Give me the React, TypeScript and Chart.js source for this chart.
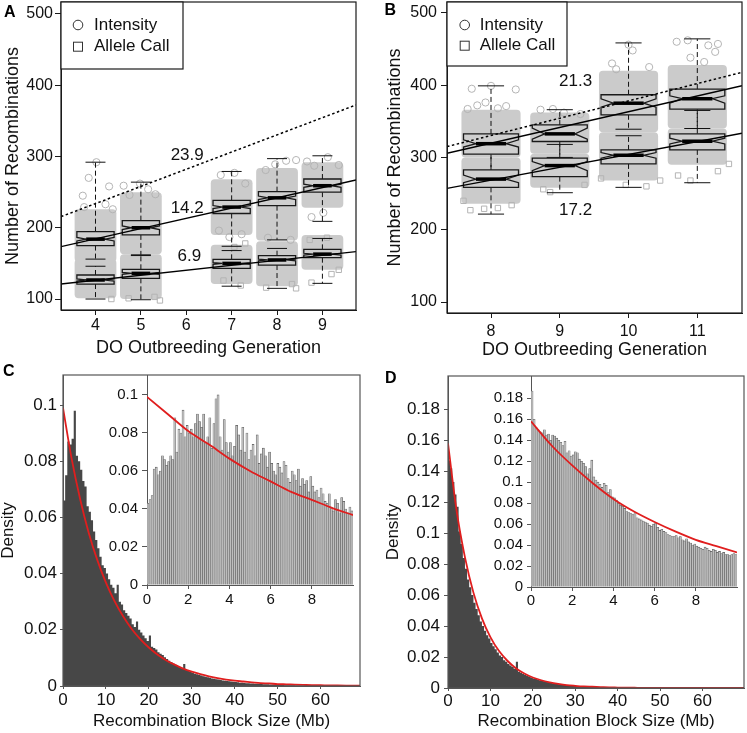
import React, { useEffect, useRef } from "react";
import { Chart, registerables } from "chart.js";

Chart.register(...registerables);
const FONT = '"Liberation Sans", Arial, Helvetica, sans-serif';
Chart.defaults.font.family = FONT;
Chart.defaults.color = "#111";

// ================= Panel A data =================
const A_GENS = [4, 5, 7, 8, 9];
const A_XTICKS = [4, 5, 6, 7, 8, 9];
const A_YTICKS = [100, 200, 300, 400, 500];
const A_INT_WLO = [156, 162, 174, 183, 209];
const A_INT_Q1 = [175, 190, 220, 231, 250];
const A_INT_NLO = [181.5, 197.5, 226.8, 239.5, 256.8];
const A_INT_MED = [184, 200, 229, 242, 259];
const A_INT_NHI = [186.5, 202.5, 231.2, 244.5, 261.2];
const A_INT_Q3 = [194.5, 210, 238.5, 250.7, 268.4];
const A_INT_WHI = [292, 264, 279, 297, 301];
const A_ALL_WLO = [100, 99, 118, 115, 122];
const A_ALL_Q1 = [121, 129, 143, 147.7, 158];
const A_ALL_NLO = [125.2, 134.5, 148.8, 153.6, 161.8];
const A_ALL_MED = [126.7, 136, 150, 154.8, 163];
const A_ALL_NHI = [128.2, 137.5, 151.2, 156, 164.2];
const A_ALL_Q3 = [133.7, 141.7, 155.7, 160.8, 169.7];
const A_ALL_WHI = [146, 161, 168, 171, 185];
const A_INT_CLOUD_LO = [152, 163, 190, 182, 228];
const A_INT_CLOUD_HI = [226, 250, 268, 284, 292];
const A_ALL_CLOUD_LO = [101, 100, 121, 118, 141];
const A_ALL_CLOUD_HI = [156, 163, 176, 181, 190];
const A_INT_OUT: [number, number][] = [
  [3.72, 245], [3.85, 270], [4.02, 292], [4.3, 258], [3.75, 229], [4.22, 233], [4.38, 226],
  [4.62, 259], [4.98, 262], [5.16, 254], [4.75, 246], [5.32, 247],
  [6.76, 274], [7.06, 277], [7.3, 262], [6.72, 196], [7.22, 191], [6.95, 187],
  [7.75, 281], [8.2, 294], [8.42, 295], [7.96, 289], [8.3, 183], [7.8, 186],
  [8.66, 293], [8.82, 287], [9.12, 299], [9.36, 288], [8.76, 215], [9.02, 221],
];
const A_ALL_OUT: [number, number][] = [
  [4.35, 100], [4.73, 101], [5.3, 103], [5.42, 98], [6.82, 126], [7.2, 119], [7.76, 116],
  [8.33, 121], [8.42, 115], [8.76, 123], [9.2, 135], [9.36, 141], [7.06, 173], [7.3, 178],
  [8.72, 183], [9.1, 186],
];
const A_INT_FIT: [number, number][] = [[3.24, 173.5], [9.74, 267]];
const A_ALL_FIT: [number, number][] = [[3.24, 121.1], [9.74, 166.5]];
const A_PRED_FIT: [number, number][] = [[3.24, 215.6], [9.74, 372.3]];
const A_SLOPE_TEXT = ["23.9", "14.2", "6.9"];
const A_SLOPE_X = [6.02, 6.02, 6.07];
const A_SLOPE_Y = [302, 227.5, 159.4];

// ================= Panel B data =================
const B_GENS = [8, 9, 10, 11];
const B_XTICKS = [8, 9, 10, 11];
const B_YTICKS = [100, 200, 300, 400, 500];
const B_INT_WLO = [265, 300, 339, 340];
const B_INT_Q1 = [304.5, 322, 359, 366.8];
const B_INT_NLO = [314.4, 325.2, 369.6, 375];
const B_INT_MED = [319, 332.6, 375, 381.2];
const B_INT_NHI = [324.3, 340.5, 381, 385.3];
const B_INT_Q3 = [332.5, 345, 386.7, 394.6];
const B_INT_WHI = [399, 366, 458.4, 464];
const B_ALL_WLO = [221.6, 251.2, 258.6, 265];
const B_ALL_Q1 = [258.6, 273.4, 291, 310.4];
const B_ALL_NLO = [265, 281.8, 298.9, 318.7];
const B_ALL_MED = [270, 288.7, 303, 322.4];
const B_ALL_NHI = [275.7, 294.2, 306.7, 326.6];
const B_ALL_Q3 = [282.7, 298.9, 310.4, 332.6];
const B_ALL_WHI = [320, 318, 330, 365];
const B_INT_CLOUD_LO = [300, 305, 335, 340];
const B_INT_CLOUD_HI = [366, 362, 420, 428];
const B_ALL_CLOUD_LO = [236, 258, 268, 290];
const B_ALL_CLOUD_HI = [300, 305, 335, 340];
const B_INT_OUT: [number, number][] = [
  [7.72, 395], [8.0, 399], [8.36, 394], [7.8, 372], [7.92, 376], [8.1, 368], [8.22, 371], [7.66, 367],
  [8.72, 366], [8.9, 367], [9.3, 360], [9.06, 362],
  [9.76, 430], [10.0, 456], [10.06, 448], [10.3, 425], [9.82, 422],
  [10.7, 460], [10.86, 462], [11.16, 455], [11.3, 457], [10.9, 438], [11.1, 432], [11.26, 446],
];
const B_ALL_OUT: [number, number][] = [
  [7.7, 227], [7.9, 229], [8.1, 230], [8.3, 234], [7.6, 240], [8.76, 256], [8.86, 252], [9.36, 262],
  [9.6, 271], [9.96, 262], [10.26, 260], [10.46, 268], [10.72, 275], [10.9, 268], [11.3, 281], [11.46, 291],
];
const B_INT_FIT: [number, number][] = [[7.36, 305.8], [11.65, 399.2]];
const B_ALL_FIT: [number, number][] = [[7.36, 257.2], [11.65, 333.5]];
const B_PRED_FIT: [number, number][] = [[7.36, 315], [11.65, 417.7]];
const B_SLOPE_TEXT = ["21.3", "17.2"];
const B_SLOPE_X = [9.23, 9.23];
const B_SLOPE_Y = [405, 227];

const LEGEND_LABELS = ["Intensity", "Allele Call"];

// ================= Panel C data =================
const HIST_BIN = 0.5;
const C_HIST = [
  0.052, 0.066, 0.075, 0.087, 0.086, 0.088, 0.098, 0.082, 0.080, 0.077, 0.073, 0.071, 0.064, 0.062, 0.059, 0.055, 0.052, 0.049, 0.046, 0.043,
  0.042, 0.040, 0.038, 0.036, 0.035, 0.033, 0.036, 0.030, 0.029, 0.027, 0.026, 0.025, 0.024, 0.022, 0.021, 0.023, 0.020, 0.019, 0.018, 0.017,
  0.016, 0.018, 0.014, 0.0135, 0.013, 0.012, 0.0115, 0.011, 0.0102, 0.0096, 0.009, 0.0085, 0.008, 0.0076, 0.0071, 0.0067, 0.0063, 0.0078, 0.0057, 0.0053,
  0.005, 0.0047, 0.0044, 0.0042, 0.0039, 0.0037, 0.0035, 0.0033, 0.0031, 0.0029, 0.0027, 0.0026, 0.0024, 0.0023, 0.0021, 0.002, 0.0019, 0.0018, 0.0017, 0.0016,
  0.0015, 0.0014, 0.0013, 0.0012, 0.0012, 0.0011, 0.001, 0.001, 0.0009, 0.0009, 0.0008, 0.0008, 0.0007, 0.0007, 0.0006, 0.0006, 0.0006, 0.0005, 0.0005, 0.0005,
  0.0004, 0.0004, 0.0004, 0.0004, 0.0003, 0.0003, 0.0003, 0.0003, 0.0003, 0.0002, 0.0002, 0.0002, 0.0002, 0.0002, 0.0002, 0.0002, 0.0001, 0.0001, 0.0001, 0.0001,
  0.0001, 0.0001, 0.0001, 0.0001, 0.0001, 0.0001, 0.0001, 0.0001, 0.0001, 0.0001, 0.0001, 0.0001, 0.0001, 0.0001, 0.0001, 0.0001, 0.0001, 0.0001, 0.0001, 0.0001,
];
const CURVE_X = [0, 2, 4, 6, 8, 10, 12, 14, 16, 18, 20, 22, 24, 26, 28, 30, 32, 34, 36, 38, 40, 42, 44, 46, 48, 50, 52, 54, 56, 58, 60, 62, 64, 66, 68, 70];
const C_CURVE_Y = [
  0.099, 0.081, 0.0665, 0.0545, 0.0448, 0.0368, 0.0302, 0.0248, 0.0203, 0.0167, 0.0137, 0.0112, 0.0092, 0.0076, 0.0062, 0.0051, 0.0042, 0.0034,
  0.0028, 0.0023, 0.0019, 0.0016, 0.0013, 0.001, 0.0009, 0.0007, 0.0006, 0.0005, 0.0004, 0.0003, 0.00026, 0.0002, 0.00017, 0.00014, 0.00011, 0.00009,
];
const C_XTICKS = [0, 10, 20, 30, 40, 50, 60];
const C_YTICKS = [0, 0.02, 0.04, 0.06, 0.08, 0.1];
const INSET_BIN = 0.1;
const C_INSET = [
  0.043, 0.045, 0.047, 0.061, 0.062, 0.058, 0.060, 0.068, 0.066, 0.063,
  0.065, 0.068, 0.066, 0.088, 0.070, 0.082, 0.080, 0.092, 0.078, 0.084,
  0.080, 0.082, 0.078, 0.085, 0.090, 0.086, 0.083, 0.090, 0.075, 0.078,
  0.088, 0.072, 0.085, 0.098, 0.100, 0.078, 0.071, 0.087, 0.075, 0.070,
  0.075, 0.068, 0.073, 0.084, 0.079, 0.071, 0.083, 0.070, 0.080, 0.066,
  0.071, 0.074, 0.068, 0.079, 0.064, 0.069, 0.072, 0.068, 0.062, 0.070,
  0.064, 0.060, 0.058, 0.064, 0.062, 0.059, 0.065, 0.063, 0.056, 0.054,
  0.060, 0.058, 0.055, 0.061, 0.052, 0.056, 0.053, 0.055, 0.049, 0.057,
  0.052, 0.049, 0.050, 0.046, 0.051, 0.048, 0.044, 0.043, 0.048, 0.041,
  0.039, 0.045, 0.043, 0.038, 0.046, 0.044, 0.040, 0.038, 0.041, 0.039,
];
const INSET_CURVE_X = [0, 1, 2, 3, 4, 5, 6, 7, 8, 9, 10];
const C_INSET_CURVE_Y = [0.099, 0.09, 0.081, 0.074, 0.0665, 0.06, 0.0545, 0.049, 0.0448, 0.0405, 0.0368];
const INSET_XTICKS = [0, 2, 4, 6, 8];

// ================= Panel D data =================
const D_HIST = [
  0.159, 0.147, 0.142, 0.133, 0.125, 0.117, 0.101, 0.093, 0.084, 0.077, 0.070, 0.065, 0.060, 0.055, 0.051, 0.047, 0.043, 0.040, 0.037, 0.034,
  0.032, 0.029, 0.027, 0.025, 0.023, 0.021, 0.020, 0.018, 0.017, 0.0155, 0.0145, 0.0135, 0.0125, 0.017, 0.0105, 0.0098, 0.009, 0.0084, 0.0078, 0.0072,
  0.0066, 0.0062, 0.0058, 0.0054, 0.005, 0.0046, 0.0043, 0.004, 0.0037, 0.0034, 0.0031, 0.0029, 0.0027, 0.0025, 0.0023, 0.0021, 0.0019, 0.0018, 0.0016, 0.0015,
  0.0014, 0.0013, 0.0012, 0.0011, 0.001, 0.0009, 0.0009, 0.0008, 0.0007, 0.0007, 0.0006, 0.0006, 0.0005, 0.0005, 0.0005, 0.0004, 0.0004, 0.0004, 0.0003, 0.0003,
  0.0003, 0.0003, 0.0002, 0.0002, 0.0002, 0.0002, 0.0002, 0.0001, 0.0001, 0.0001, 0.0001, 0.0001, 0.0001, 0.0001, 0.0001, 0.0001, 0.0001, 0.0001, 0.0001, 0.0001,
  0.0001, 0.0001, 0.0001, 0.0001, 0.0001, 0.0001, 0.0001, 0.0001, 0.0001, 0.0001, 0.0001, 0.0001, 0.0001, 0.0001, 0.0001, 0.0001, 0.0001, 0.0001, 0.0001, 0.0001,
  0.0001, 0.0001, 0.0001, 0.0001, 0.0001, 0.0001, 0.0001, 0.0001, 0.0001, 0.0001, 0.0001, 0.0001, 0.0001, 0.0001, 0.0001, 0.0001, 0.0001, 0.0001, 0.0001, 0.0001,
];
const D_CURVE_Y = [
  0.158, 0.115, 0.0844, 0.0616, 0.045, 0.0329, 0.024, 0.0176, 0.0128, 0.0094, 0.0068, 0.005, 0.0037, 0.0027, 0.0019, 0.0014, 0.001, 0.0008,
  0.0006, 0.0004, 0.0003, 0.0002, 0.00015, 0.0001, 0.00008, 0.00006, 0.00004, 0.00003, 0.00002, 0.00002, 0.00001, 0.00001, 0.00001, 0.00001, 0, 0,
];
const D_XTICKS = [0, 10, 20, 30, 40, 50, 60];
const D_YTICKS = [0, 0.02, 0.04, 0.06, 0.08, 0.1, 0.12, 0.14, 0.16, 0.18];
const D_INSET = [
  0.187, 0.160, 0.152, 0.150, 0.148, 0.147, 0.150, 0.145, 0.146, 0.140,
  0.145, 0.144, 0.142, 0.140, 0.138, 0.135, 0.139, 0.128, 0.130, 0.125,
  0.126, 0.129, 0.128, 0.122, 0.120, 0.118, 0.115, 0.108, 0.113, 0.121,
  0.105, 0.102, 0.100, 0.098, 0.095, 0.099, 0.097, 0.090, 0.093, 0.086,
  0.085, 0.083, 0.080, 0.078, 0.077, 0.075, 0.072, 0.071, 0.070, 0.069,
  0.071, 0.066, 0.065, 0.064, 0.063, 0.062, 0.061, 0.059, 0.058, 0.060,
  0.061, 0.057, 0.054, 0.055, 0.053, 0.052, 0.050, 0.049, 0.048, 0.048,
  0.049, 0.047, 0.048, 0.045, 0.044, 0.046, 0.043, 0.042, 0.040, 0.041,
  0.039, 0.038, 0.037, 0.036, 0.038, 0.037, 0.035, 0.034, 0.036, 0.035,
  0.033, 0.034, 0.032, 0.033, 0.031, 0.031, 0.030, 0.031, 0.032, 0.031,
];
const D_INSET_CURVE_Y = [0.158, 0.135, 0.116, 0.099, 0.084, 0.072, 0.062, 0.053, 0.045, 0.039, 0.033];

// ================= styling =================
const RED = "#e01e1e";
const HIST_DARK = "#474747";
const CLOUD = "#cbcbcb";
const BOX_FILL = "#cfcfcf";
const POINT_EDGE = "#b4b4b4";

type Rect = { L: number; T: number; R: number; B: number; yW: number; xH: number };
const PAD_T = 20;
const PAD_R = 3;

function fmtNum(v: number) {
  return String(parseFloat(Number(v).toFixed(3)));
}

function axis(o: any) {
  return {
    type: "linear",
    min: o.min,
    max: o.max,
    offset: false,
    afterBuildTicks: (s: any) => {
      s.ticks = o.ticks.map((v: number) => ({ value: v }));
    },
    afterFit: (s: any) => {
      if (o.horizontal) s.height = o.fixed;
      else s.width = o.fixed;
    },
    grid: { display: true, drawOnChartArea: false, drawTicks: true, tickLength: o.tickLen, color: o.line, lineWidth: 1, offset: false },
    border: { display: true, color: o.line, width: 1 },
    ticks: {
      font: { size: o.tickFont },
      color: "#111",
      padding: o.tickPad,
      maxRotation: 0,
      minRotation: 0,
      autoSkip: false,
      callback: (v: any) => fmtNum(v),
    },
    title: o.title
      ? { display: true, text: o.title, color: "#111", font: { size: o.titleFont, lineHeight: o.titleLH ?? 1.2 }, padding: o.titlePad }
      : { display: false },
  };
}

function ChartCanvas({ rect, build }: { rect: Rect; build: () => any }) {
  const ref = useRef<HTMLCanvasElement | null>(null);
  const left = rect.L - rect.yW;
  const top = rect.T - PAD_T;
  const width = rect.yW + (rect.R - rect.L) + PAD_R;
  const height = PAD_T + (rect.B - rect.T) + rect.xH;
  useEffect(() => {
    if (!ref.current) return;
    const cfg = build();
    cfg.options.layout = { padding: { top: PAD_T, right: PAD_R, left: 0, bottom: 0 } };
    const chart = new Chart(ref.current, cfg);
    return () => chart.destroy();
  }, []);
  return (
    <canvas
      ref={ref}
      width={width}
      height={height}
      style={{ position: "absolute", left, top, width, height }}
    />
  );
}

// ---------- box-plot panel ----------
type Stats = { wlo: number[]; q1: number[]; nlo: number[]; med: number[]; nhi: number[]; q3: number[]; whi: number[] };

function boxPlugin(p: any) {
  const line = (ctx: CanvasRenderingContext2D, x0: number, y0: number, x1: number, y1: number) => {
    ctx.beginPath();
    ctx.moveTo(x0, y0);
    ctx.lineTo(x1, y1);
    ctx.stroke();
  };
  return {
    id: "boxpanel",
    beforeDatasetsDraw(chart: any) {
      const { ctx, chartArea: ca, scales } = chart;
      const xs = scales.x, ys = scales.y;
      ctx.save();
      ctx.beginPath();
      ctx.rect(ca.left, ca.top, ca.right - ca.left, ca.bottom - ca.top);
      ctx.clip();
      ctx.fillStyle = CLOUD;
      p.gens.forEach((g: number, i: number) => {
        const x0 = xs.getPixelForValue(g - p.cloudHalf);
        const x1 = xs.getPixelForValue(g + p.cloudHalf);
        [[p.intCloudLo, p.intCloudHi], [p.allCloudLo, p.allCloudHi]].forEach(([lo, hi]: any) => {
          const y0 = ys.getPixelForValue(hi[i]);
          const y1 = ys.getPixelForValue(lo[i]);
          ctx.beginPath();
          if ((ctx as any).roundRect) (ctx as any).roundRect(x0, y0, x1 - x0, y1 - y0, 4);
          else ctx.rect(x0, y0, x1 - x0, y1 - y0);
          ctx.fill();
        });
      });
      ctx.restore();
    },
    afterDatasetDraw(chart: any, args: any) {
      if (!chart.data.datasets[args.index].boxesAfter) return;
      const { ctx, scales } = chart;
      const xs = scales.x, ys = scales.y;
      const sets: Stats[] = [p.int, p.all];
      ctx.save();
      ctx.strokeStyle = "#111";
      ctx.lineWidth = 1;
      // whiskers
      sets.forEach((s) => {
        p.gens.forEach((g: number, i: number) => {
          const xc = xs.getPixelForValue(g);
          ctx.setLineDash([5, 3]);
          line(ctx, xc, ys.getPixelForValue(s.q3[i]), xc, ys.getPixelForValue(s.whi[i]));
          line(ctx, xc, ys.getPixelForValue(s.q1[i]), xc, ys.getPixelForValue(s.wlo[i]));
          ctx.setLineDash([]);
          const c0 = xs.getPixelForValue(g - p.cap), c1 = xs.getPixelForValue(g + p.cap);
          line(ctx, c0, ys.getPixelForValue(s.whi[i]), c1, ys.getPixelForValue(s.whi[i]));
          line(ctx, c0, ys.getPixelForValue(s.wlo[i]), c1, ys.getPixelForValue(s.wlo[i]));
        });
      });
      // boxes
      sets.forEach((s) => {
        p.gens.forEach((g: number, i: number) => {
          const xl = xs.getPixelForValue(g - p.half), xr = xs.getPixelForValue(g + p.half);
          const nl = xs.getPixelForValue(g - p.half * p.notchFrac), nr = xs.getPixelForValue(g + p.half * p.notchFrac);
          const Y = (v: number) => ys.getPixelForValue(v);
          ctx.beginPath();
          ctx.moveTo(xl, Y(s.q1[i]));
          ctx.lineTo(xl, Y(s.nlo[i]));
          ctx.lineTo(nl, Y(s.med[i]));
          ctx.lineTo(xl, Y(s.nhi[i]));
          ctx.lineTo(xl, Y(s.q3[i]));
          ctx.lineTo(xr, Y(s.q3[i]));
          ctx.lineTo(xr, Y(s.nhi[i]));
          ctx.lineTo(nr, Y(s.med[i]));
          ctx.lineTo(xr, Y(s.nlo[i]));
          ctx.lineTo(xr, Y(s.q1[i]));
          ctx.closePath();
          ctx.fillStyle = BOX_FILL;
          ctx.fill();
          ctx.lineWidth = 1.3;
          ctx.strokeStyle = "#1a1a1a";
          ctx.stroke();
          ctx.lineWidth = 3.5;
          ctx.strokeStyle = "#000";
          line(ctx, nl, Y(s.med[i]), nr, Y(s.med[i]));
        });
      });
      ctx.restore();
    },
    afterDatasetsDraw(chart: any) {
      const { ctx, chartArea: ca, scales } = chart;
      const xs = scales.x, ys = scales.y;
      ctx.save();
      // frame
      ctx.strokeStyle = "#1a1a1a";
      ctx.lineWidth = 1.2;
      ctx.strokeRect(ca.left, ca.top, ca.right - ca.left, ca.bottom - ca.top);
      // slope labels
      ctx.fillStyle = "#111";
      ctx.font = `17px ${FONT}`;
      ctx.textAlign = "center";
      ctx.textBaseline = "middle";
      p.slopeText.forEach((t: string, i: number) => {
        ctx.fillText(t, xs.getPixelForValue(p.slopeX[i]), ys.getPixelForValue(p.slopeY[i]));
      });
      // legend
      const lg = p.legend;
      ctx.fillStyle = "#fff";
      ctx.fillRect(ca.left, ca.top, lg.w, lg.h);
      ctx.strokeStyle = "#1a1a1a";
      ctx.lineWidth = 1.2;
      ctx.strokeRect(ca.left, ca.top, lg.w, lg.h);
      ctx.strokeStyle = "#333";
      ctx.lineWidth = 1;
      ctx.beginPath();
      ctx.arc(ca.left + lg.sym, ca.top + lg.y1, 4.8, 0, Math.PI * 2);
      ctx.stroke();
      ctx.strokeRect(ca.left + lg.sym - 4.5, ca.top + lg.y2 - 4.5, 9, 9);
      ctx.fillStyle = "#111";
      ctx.font = `17px ${FONT}`;
      ctx.textAlign = "left";
      ctx.textBaseline = "middle";
      ctx.fillText(LEGEND_LABELS[0], ca.left + lg.txt, ca.top + lg.y1);
      ctx.fillText(LEGEND_LABELS[1], ca.left + lg.txt, ca.top + lg.y2);
      ctx.restore();
    },
  };
}

function boxConfig(p: any) {
  const toPts = (a: [number, number][]) => a.map(([x, y]) => ({ x, y }));
  return {
    type: "scatter",
    data: {
      datasets: [
        { type: "line", data: toPts(p.intFit), borderColor: "#000", borderWidth: 1.4, pointRadius: 0, fill: false, order: 0 },
        { type: "line", data: toPts(p.allFit), borderColor: "#000", borderWidth: 1.4, pointRadius: 0, fill: false, order: 0 },
        { type: "line", data: toPts(p.predFit), borderColor: "#000", borderWidth: 1.5, borderDash: [2.5, 2.5], pointRadius: 0, fill: false, order: 0 },
        { label: LEGEND_LABELS[0], data: toPts(p.intOut), pointStyle: "circle", pointRadius: 3.6, borderColor: POINT_EDGE, backgroundColor: "rgba(0,0,0,0)", borderWidth: 1, order: 1, boxesAfter: true },
        { label: LEGEND_LABELS[1], data: toPts(p.allOut), pointStyle: "rect", pointRadius: 3.8, borderColor: POINT_EDGE, backgroundColor: "rgba(0,0,0,0)", borderWidth: 1, order: 2 },
      ],
    },
    options: {
      animation: false,
      responsive: false,
      maintainAspectRatio: false,
      events: [],
      plugins: { legend: { display: false }, tooltip: { enabled: false } },
      scales: { x: p.x, y: p.y },
    },
    plugins: [boxPlugin(p)],
  };
}

const A_RECT: Rect = { L: 61, T: 2, R: 358, B: 310, yW: 61, xH: 55 };
const B_RECT: Rect = { L: 447, T: 2, R: 744, B: 313, yW: 74, xH: 52 };

function buildA() {
  return boxConfig({
    gens: A_GENS, half: 0.41, cap: 0.22, cloudHalf: 0.46, notchFrac: 0.5,
    int: { wlo: A_INT_WLO, q1: A_INT_Q1, nlo: A_INT_NLO, med: A_INT_MED, nhi: A_INT_NHI, q3: A_INT_Q3, whi: A_INT_WHI },
    all: { wlo: A_ALL_WLO, q1: A_ALL_Q1, nlo: A_ALL_NLO, med: A_ALL_MED, nhi: A_ALL_NHI, q3: A_ALL_Q3, whi: A_ALL_WHI },
    intCloudLo: A_INT_CLOUD_LO, intCloudHi: A_INT_CLOUD_HI, allCloudLo: A_ALL_CLOUD_LO, allCloudHi: A_ALL_CLOUD_HI,
    intOut: A_INT_OUT, allOut: A_ALL_OUT,
    intFit: A_INT_FIT, allFit: A_ALL_FIT, predFit: A_PRED_FIT,
    slopeText: A_SLOPE_TEXT, slopeX: A_SLOPE_X, slopeY: A_SLOPE_Y,
    legend: { w: 122, h: 67, sym: 17, txt: 33, y1: 23, y2: 44.7 },
    x: axis({ min: 3.24, max: 9.74, ticks: A_XTICKS, horizontal: true, fixed: A_RECT.xH, tickFont: 16, tickLen: 5, tickPad: 1, line: "#1a1a1a", title: "DO Outbreeding Generation", titleFont: 18, titlePad: { top: 0, bottom: 6.2 } }),
    y: axis({ min: 84.6, max: 516.8, ticks: A_YTICKS, horizontal: false, fixed: A_RECT.yW, tickFont: 16, tickLen: 6, tickPad: 2, line: "#1a1a1a", title: "Number of Recombinations", titleFont: 18, titlePad: { top: 2.2, bottom: 0 } }),
  });
}

function buildB() {
  return boxConfig({
    gens: B_GENS, half: 0.4, cap: 0.19, cloudHalf: 0.43, notchFrac: 0.55,
    int: { wlo: B_INT_WLO, q1: B_INT_Q1, nlo: B_INT_NLO, med: B_INT_MED, nhi: B_INT_NHI, q3: B_INT_Q3, whi: B_INT_WHI },
    all: { wlo: B_ALL_WLO, q1: B_ALL_Q1, nlo: B_ALL_NLO, med: B_ALL_MED, nhi: B_ALL_NHI, q3: B_ALL_Q3, whi: B_ALL_WHI },
    intCloudLo: B_INT_CLOUD_LO, intCloudHi: B_INT_CLOUD_HI, allCloudLo: B_ALL_CLOUD_LO, allCloudHi: B_ALL_CLOUD_HI,
    intOut: B_INT_OUT, allOut: B_ALL_OUT,
    intFit: B_INT_FIT, allFit: B_ALL_FIT, predFit: B_PRED_FIT,
    slopeText: B_SLOPE_TEXT, slopeX: B_SLOPE_X, slopeY: B_SLOPE_Y,
    legend: { w: 120, h: 64, sym: 17.7, txt: 32.7, y1: 23, y2: 43.7 },
    x: axis({ min: 7.36, max: 11.65, ticks: B_XTICKS, horizontal: true, fixed: B_RECT.xH, tickFont: 16, tickLen: 5, tickPad: 4, line: "#1a1a1a", title: "DO Outbreeding Generation", titleFont: 18, titlePad: { top: 0, bottom: 4.2 } }),
    y: axis({ min: 84.8, max: 515, ticks: B_YTICKS, horizontal: false, fixed: B_RECT.yW, tickFont: 16, tickLen: 6, tickPad: 4, line: "#1a1a1a", title: "Number of Recombinations", titleFont: 18, titlePad: { top: 10.9, bottom: 0 } }),
  });
}

// ---------- histogram panels ----------
const framePlugin = {
  id: "frame",
  afterDatasetsDraw(chart: any) {
    const { ctx, chartArea: ca } = chart;
    ctx.save();
    ctx.strokeStyle = "#555";
    ctx.lineWidth = 1.2;
    ctx.strokeRect(ca.left, ca.top, ca.right - ca.left, ca.bottom - ca.top);
    ctx.restore();
  },
};

function histConfig(hist: number[], curveY: number[], x: any, y: any) {
  const histPts = hist.map((h, i) => ({ x: i * HIST_BIN, y: h }));
  histPts.push({ x: hist.length * HIST_BIN, y: hist[hist.length - 1] });
  const curvePts = CURVE_X.map((cx, i) => ({ x: cx, y: curveY[i] }));
  return {
    type: "scatter",
    data: {
      datasets: [
        { type: "line", data: curvePts, borderColor: RED, borderWidth: 1.8, pointRadius: 0, tension: 0.4, cubicInterpolationMode: "monotone", fill: false, order: 0 },
        { type: "line", data: histPts, stepped: "after", borderColor: "rgba(0,0,0,0)", borderWidth: 0, backgroundColor: HIST_DARK, fill: "origin", pointRadius: 0, order: 1 },
      ],
    },
    options: {
      animation: false,
      responsive: false,
      maintainAspectRatio: false,
      events: [],
      plugins: { legend: { display: false }, tooltip: { enabled: false } },
      scales: { x, y },
    },
    plugins: [framePlugin],
  };
}

function insetConfig(bars: number[], curveY: number[], x: any, y: any) {
  const barPts = bars.map((h, i) => ({ x: (i + 0.5) * INSET_BIN, y: h }));
  const curvePts = INSET_CURVE_X.map((cx, i) => ({ x: cx, y: curveY[i] }));
  return {
    type: "bar",
    data: {
      datasets: [
        { type: "line", data: curvePts, borderColor: RED, borderWidth: 1.8, pointRadius: 0, tension: 0.4, cubicInterpolationMode: "monotone", fill: false, order: 0 },
        { type: "bar", data: barPts, backgroundColor: "#bdbdbd", borderColor: "#575757", borderWidth: { top: 0.6, left: 0.5, right: 0.5, bottom: 0 }, barPercentage: 1, categoryPercentage: 1, order: 1 },
      ],
    },
    options: {
      animation: false,
      responsive: false,
      maintainAspectRatio: false,
      events: [],
      plugins: { legend: { display: false }, tooltip: { enabled: false } },
      scales: { x, y },
    },
  };
}

const C_RECT: Rect = { L: 63, T: 375, R: 360, B: 686, yW: 63, xH: 47 };
const D_RECT: Rect = { L: 448, T: 376, R: 744, B: 688, yW: 75, xH: 45 };
const CI_RECT: Rect = { L: 147, T: 375, R: 353, B: 585, yW: 52, xH: 25 };
const DI_RECT: Rect = { L: 531, T: 376, R: 737, B: 587, yW: 61, xH: 24 };
const X_TITLE = "Recombination Block Size (Mb)";
const Y_TITLE = "Density";

function buildC() {
  return histConfig(
    C_HIST, C_CURVE_Y,
    axis({ min: 0, max: 69.2, ticks: C_XTICKS, horizontal: true, fixed: C_RECT.xH, tickFont: 17, tickLen: 3, tickPad: 1, line: "#555", title: X_TITLE, titleFont: 17, titlePad: { top: 0, bottom: 1.8 } }),
    axis({ min: 0, max: 0.1107, ticks: C_YTICKS, horizontal: false, fixed: C_RECT.yW, tickFont: 17, tickLen: 3, tickPad: 3, line: "#555", title: Y_TITLE, titleFont: 17, titleLH: 1, titlePad: { top: 0, bottom: 0 } })
  );
}
function buildD() {
  return histConfig(
    D_HIST, D_CURVE_Y,
    axis({ min: 0, max: 69.8, ticks: D_XTICKS, horizontal: true, fixed: D_RECT.xH, tickFont: 17, tickLen: 3, tickPad: 0, line: "#555", title: X_TITLE, titleFont: 17, titlePad: { top: 0, bottom: 1.8 } }),
    axis({ min: 0, max: 0.2015, ticks: D_YTICKS, horizontal: false, fixed: D_RECT.yW, tickFont: 17, tickLen: 4, tickPad: 4, line: "#555", title: Y_TITLE, titleFont: 17, titleLH: 1, titlePad: { top: 11.5, bottom: 0 } })
  );
}
function buildCI() {
  return insetConfig(
    C_INSET, C_INSET_CURVE_Y,
    axis({ min: 0, max: 10, ticks: INSET_XTICKS, horizontal: true, fixed: CI_RECT.xH, tickFont: 15, tickLen: 4, tickPad: 2, line: "#555" }),
    axis({ min: 0, max: 0.1105, ticks: C_YTICKS, horizontal: false, fixed: CI_RECT.yW, tickFont: 15, tickLen: 5, tickPad: 4, line: "#555" })
  );
}
function buildDI() {
  return insetConfig(
    D_INSET, D_INSET_CURVE_Y,
    axis({ min: 0, max: 10, ticks: INSET_XTICKS, horizontal: true, fixed: DI_RECT.xH, tickFont: 15, tickLen: 4, tickPad: 1, line: "#555" }),
    axis({ min: 0, max: 0.2013, ticks: D_YTICKS, horizontal: false, fixed: DI_RECT.yW, tickFont: 15, tickLen: 4, tickPad: 4, line: "#555" })
  );
}

const letterStyle = (left: number, top: number): React.CSSProperties => ({
  position: "absolute",
  left,
  top,
  fontFamily: FONT,
  fontWeight: "bold",
  fontSize: 16,
  lineHeight: "16px",
  color: "#000",
});

export default function App() {
  return (
    <div style={{ position: "fixed", left: 0, top: 0, width: 747, height: 733, overflow: "hidden", background: "#fff" }}>
      <ChartCanvas rect={A_RECT} build={buildA} />
      <ChartCanvas rect={B_RECT} build={buildB} />
      <ChartCanvas rect={C_RECT} build={buildC} />
      <ChartCanvas rect={D_RECT} build={buildD} />
      <ChartCanvas rect={CI_RECT} build={buildCI} />
      <ChartCanvas rect={DI_RECT} build={buildDI} />
      <div style={letterStyle(4, 4)}>A</div>
      <div style={letterStyle(384.5, 1.5)}>B</div>
      <div style={letterStyle(3, 363)}>C</div>
      <div style={letterStyle(385, 370)}>D</div>
    </div>
  );
}
